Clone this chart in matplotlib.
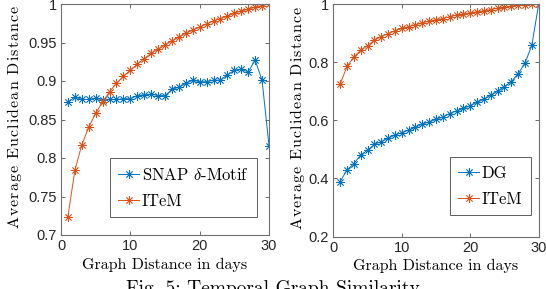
import numpy as np
import matplotlib
matplotlib.use("Agg")
import matplotlib.pyplot as plt

plt.rcParams["mathtext.fontset"] = "cm"
plt.rcParams["axes.unicode_minus"] = False

# ── data ──────────────────────────────────────────────────────────────────────
days = np.arange(1, 31)

snap_motif = [0.873, 0.879, 0.876, 0.876, 0.878, 0.875, 0.876, 0.876, 0.877, 0.877,
              0.881, 0.882, 0.883, 0.881, 0.881, 0.889, 0.892, 0.897, 0.901, 0.899,
              0.899, 0.901, 0.901, 0.908, 0.914, 0.915, 0.912, 0.927, 0.901, 0.816]
item_left = [0.724, 0.784, 0.817, 0.840, 0.858, 0.873, 0.886, 0.897, 0.906, 0.914,
             0.922, 0.929, 0.936, 0.941, 0.947, 0.952, 0.957, 0.962, 0.966, 0.970,
             0.974, 0.978, 0.981, 0.984, 0.988, 0.991, 0.993, 0.996, 0.998, 1.000]

dg = [0.389, 0.429, 0.451, 0.480, 0.497, 0.517, 0.526, 0.538, 0.549, 0.557,
      0.566, 0.576, 0.587, 0.594, 0.603, 0.611, 0.623, 0.632, 0.641, 0.650,
      0.662, 0.672, 0.686, 0.700, 0.716, 0.733, 0.760, 0.797, 0.858, 1.000]
item_right = [0.725, 0.785, 0.818, 0.841, 0.857, 0.875, 0.888, 0.898, 0.907, 0.916,
              0.922, 0.928, 0.935, 0.941, 0.946, 0.950, 0.956, 0.962, 0.965, 0.970,
              0.973, 0.977, 0.981, 0.985, 0.988, 0.992, 0.995, 0.998, 0.999, 1.000]

left_yticks = [0.7, 0.75, 0.8, 0.85, 0.9, 0.95, 1.0]
left_ylabels = ["0.7", "0.75", "0.8", "0.85", "0.9", "0.95", "1"]
right_yticks = [0.2, 0.4, 0.6, 0.8, 1.0]
right_ylabels = ["0.2", "0.4", "0.6", "0.8", "1"]
xticks = [0, 10, 20, 30]

BLUE = "#0072BD"
ORANGE = "#D95319"
SERIF = "cmr10"
SANS = "Liberation Sans"
STAR = (8, 2, 0)   # MATLAB-style asterisk


def spaced(s, gap=0.08):
    # mimic the loose letter spacing of the original y label
    parts = [r"\ " if c == " " else c for c in s]
    return r"$\mathrm{" + (r"\hspace{%g}" % gap).join(parts) + "}$"


def style(ax, yticks, ylabels, ylim):
    ax.set_xlim(0, 30)
    ax.set_ylim(*ylim)
    ax.set_xticks(xticks)
    ax.set_xticklabels([str(t) for t in xticks], family=SANS, fontsize=10.5, color="#262626")
    ax.set_yticks(yticks)
    ax.set_yticklabels(ylabels, family=SANS, fontsize=10.5, color="#262626")
    ax.tick_params(direction="in", length=3, width=0.6, color="#555555",
                   top=True, right=True, pad=3)
    for sp in ax.spines.values():
        sp.set_color("#6e6e6e")
        sp.set_linewidth(0.8)
    ax.set_xlabel("Graph Distance in days", family=SERIF, fontsize=11.5, labelpad=3)


def add_legend(ax, anchor):
    leg = ax.legend(loc="lower left", bbox_to_anchor=anchor,
                    prop={"family": SERIF, "size": 12},
                    fancybox=False, edgecolor="#333333", handlelength=1.25,
                    handletextpad=0.15, borderpad=0.5, labelspacing=0.65,
                    borderaxespad=0)
    leg.get_frame().set_linewidth(0.7)
    return leg


fig = plt.figure(figsize=(5.46, 2.89), dpi=100)

# ── left panel ────────────────────────────────────────────────────────────────
ax1 = fig.add_axes([61 / 546, 1 - 235 / 289, 208 / 546, 231 / 289])
ax1.plot(days, snap_motif, color=BLUE, lw=0.7, marker=STAR, ms=6, mew=0.6,
         label=r"SNAP $\delta$-Motif")
ax1.plot(days, item_left, color=ORANGE, lw=0.7, marker=STAR, ms=6, mew=0.6,
         label="ITeM")
style(ax1, left_yticks, left_ylabels, (0.7, 1.0))
ax1.text(-0.225, 0.51, spaced("Average Euclidean Distance"), transform=ax1.transAxes,
         rotation=90, ha="center", va="center", fontsize=11.5)
add_legend(ax1, (0.236, 0.078))

# ── right panel ───────────────────────────────────────────────────────────────
ax2 = fig.add_axes([333.3 / 546, 1 - 236.5 / 289, 205.4 / 546, 232.5 / 289])
ax2.plot(days, dg, color=BLUE, lw=0.7, marker=STAR, ms=6, mew=0.6, label="DG")
ax2.plot(days, item_right, color=ORANGE, lw=0.7, marker=STAR, ms=6, mew=0.6, label="ITeM")
style(ax2, right_yticks, right_ylabels, (0.2, 1.0))
ax2.text(-0.175, 0.51, spaced("Average Euclidean Distance"), transform=ax2.transAxes,
         rotation=90, ha="center", va="center", fontsize=11.5)
add_legend(ax2, (0.568, 0.092))

# caption, cut off at the bottom like the source image
fig.text(0.5, 1 - 280 / 289, "Fig. 5: Temporal Graph Similarity", family=SERIF,
         fontsize=14, ha="center", va="top")

fig.savefig("out.png", dpi=100)
